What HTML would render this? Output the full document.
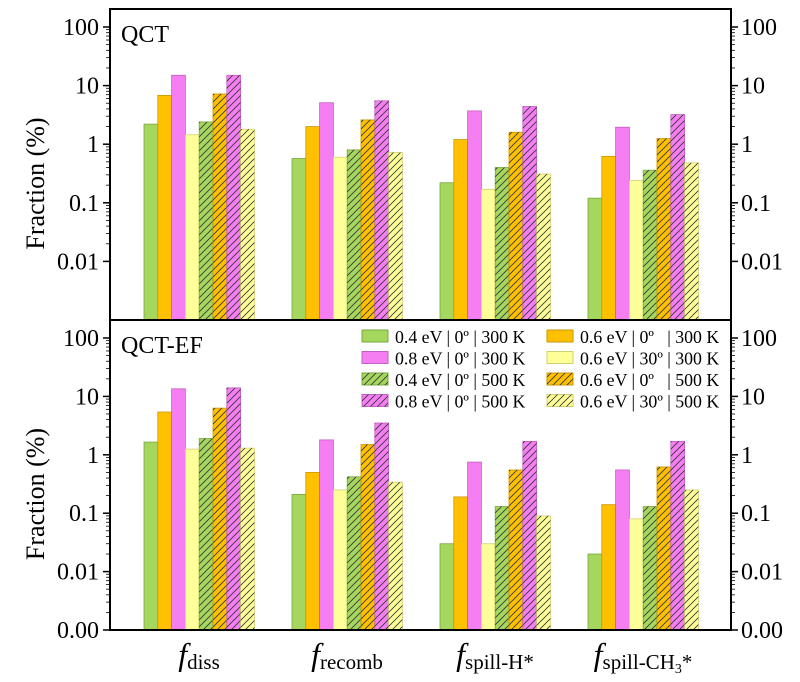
<!DOCTYPE html>
<html><head><meta charset="utf-8"><style>
body{margin:0;background:#fff;}
svg{display:block;font-family:"Liberation Serif",serif;}
</style></head><body>
<svg id="c" width="800" height="682"></svg>
<script>
const categories=["diss","recomb","spill-H*","spill-CH3*"];
const seriesNames=["0.4 eV | 0º | 300 K","0.6 eV | 0º   | 300 K","0.8 eV | 0º | 300 K","0.6 eV | 30º | 300 K","0.4 eV | 0º | 500 K","0.6 eV | 0º   | 500 K","0.8 eV | 0º | 500 K","0.6 eV | 30º | 500 K"];
const qctValues=[
 [2.2,0.57,0.22,0.12],
 [6.8,2.0,1.2,0.62],
 [15,5.1,3.7,1.95],
 [1.45,0.6,0.17,0.24],
 [2.4,0.8,0.4,0.36],
 [7.2,2.6,1.6,1.25],
 [15,5.5,4.4,3.2],
 [1.8,0.72,0.31,0.48]];
const qctEfValues=[
 [1.65,0.21,0.03,0.02],
 [5.4,0.5,0.19,0.14],
 [13.5,1.8,0.75,0.55],
 [1.25,0.25,0.03,0.08],
 [1.9,0.42,0.13,0.13],
 [6.3,1.5,0.55,0.62],
 [14,3.5,1.7,1.7],
 [1.3,0.34,0.09,0.25]];
const topTicks=["100","10","1","0.1","0.01"];
const botTicks=["100","10","1","0.1","0.01","0.00"];
const colors=["#a5d65e","#ffc000","#f57ff2","#ffff99","#a5d65e","#ffc000","#f57ff2","#ffff99"];
const strokes=["#7aa640","#c99600","#c060c0","#d0d070","#7aa640","#c99600","#c060c0","#d0d070"];
const NS="http://www.w3.org/2000/svg";
const svg=document.getElementById('c');
function mk(t,a,p){const e=document.createElementNS(NS,t);for(const k in a)e.setAttribute(k,a[k]);(p||svg).appendChild(e);return e;}
const defs=mk('defs',{});
const pat=mk('pattern',{id:'hatch',patternUnits:'userSpaceOnUse',width:7,height:7},defs);
mk('path',{d:'M-1,8 L8,-1 M-2,2 L2,-2 M5,9 L9,5',stroke:'#333','stroke-width':0.8},pat);
const L=110,R=731;
const xBar=(g,s)=>144+g*148+s*13.8;
function panel(top,bottom,vals,ticks,label,name){
 const dec=(bottom-top)/5;
 const y=v=>top+ (2-Math.log10(v))*dec;
 const gp=mk('g',{});
 
 
 for(let s=0;s<8;s++)for(let g=0;g<4;g++){
  const yy=y(vals[s][g]);
  const r=mk('rect',{x:xBar(g,s),y:yy,width:13.8,height:bottom-yy,fill:colors[s],stroke:strokes[s],'stroke-width':0.8},gp);
  
  
  if(s>=4){mk('rect',{x:xBar(g,s),y:yy,width:13.8,height:bottom-yy,fill:'url(#hatch)'},gp);}
 }
 mk('rect',{x:L,y:top-18,width:R-L,height:bottom-top+18,fill:'none',stroke:'#000','stroke-width':2},gp);
 ticks.forEach((t,i)=>{
  const yy=top+i*dec;
  mk('line',{x1:L-7,x2:L,y1:yy,y2:yy,stroke:'#000','stroke-width':1.5},gp);
  mk('line',{x1:R,x2:R+7,y1:yy,y2:yy,stroke:'#000','stroke-width':1.5},gp);
  const a=mk('text',{x:L-11,y:yy+8,'text-anchor':'end','font-size':24},gp);a.textContent=t;
  
  const b=mk('text',{x:R+10,y:yy+8,'font-size':24},gp);b.textContent=t;
  
  if(i<4||(i==4&&ticks.length>5)){for(let m=2;m<10;m++){const my=yy+Math.log10(10/m)*dec;
   mk('line',{x1:L-4,x2:L,y1:my,y2:my,stroke:'#000','stroke-width':0.8},gp);
   mk('line',{x1:R,x2:R+4,y1:my,y2:my,stroke:'#000','stroke-width':0.8},gp);}}
 });
 const lb=mk('text',{x:121,y:top+15,'font-size':24},gp);lb.textContent=label;
 
 const yt=mk('text',{x:0,y:0,'font-size':26,'text-anchor':'middle',transform:`translate(44,${(top+bottom)/2+10}) rotate(-90)`},gp);
 yt.textContent='Fraction (%)';
}
panel(27,320,qctValues,topTicks,'QCT','qct-panel');
panel(338,630,qctEfValues,botTicks,'QCT-EF','qct-ef-panel');
const lg=mk('g',{});

const order=[[0,1],[2,3],[4,5],[6,7]];
order.forEach((row,ri)=>row.forEach((s,ci)=>{
 const x=ci?547:362, yy=330+ri*21.5;
 mk('rect',{x:x,y:yy,width:26,height:12,fill:colors[s],stroke:strokes[s]},lg);
 if(s>=4)mk('rect',{x:x,y:yy,width:26,height:12,fill:'url(#hatch)'},lg);
 const t=mk('text',{x:x+33,y:yy+13,'font-size':17.8},lg);t.textContent=seriesNames[s];
 t.setAttribute('style','white-space:pre');
 
}));
const subs=["diss","recomb","spill-H*",null];
categories.forEach((c,g)=>{
 const cx=xBar(g,0)+55;
 const t=mk('text',{x:cx,y:665,'text-anchor':'middle','font-size':32});
 
 const f=mk('tspan',{'font-style':'italic'},t);f.textContent='f';
 if(g<3){const s=mk('tspan',{'font-size':21,dy:4},t);s.textContent=subs[g];}
 else{const s=mk('tspan',{'font-size':21,dy:4},t);s.textContent='spill-CH';
  const s2=mk('tspan',{'font-size':14,dy:4},t);s2.textContent='3';
  const s3=mk('tspan',{'font-size':21,dy:-4},t);s3.textContent='*';}
});
</script>
</body></html>
